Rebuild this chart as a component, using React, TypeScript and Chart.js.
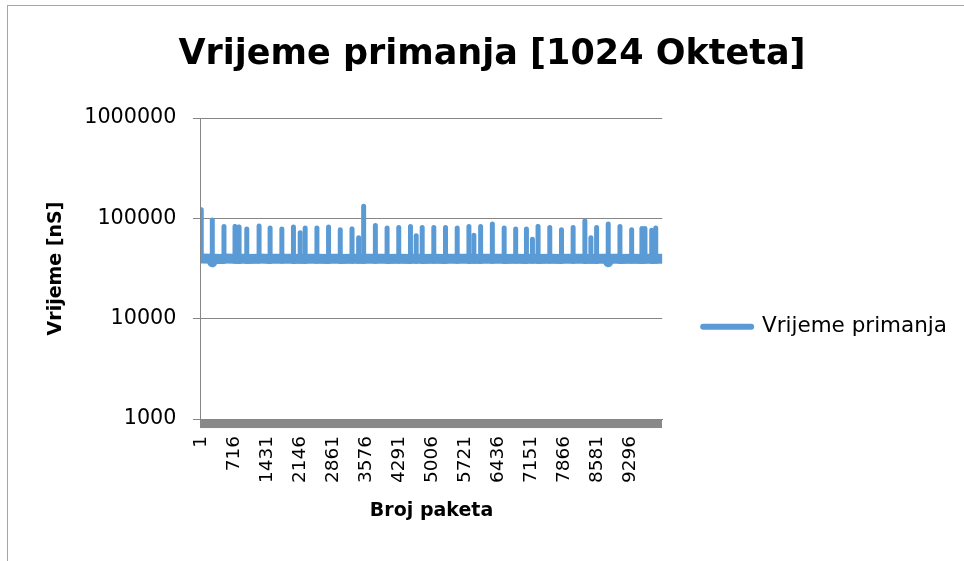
import React, { useEffect, useRef } from "react";
import { Chart, registerables } from "chart.js";

Chart.register(...registerables);

// Packet number of each vertex of the line
const packets = [
  1, 7, 8,
  246, 247, 248, 270,
  499, 500, 501,
  739, 740, 741,
  826, 827, 828,
  993, 994, 995,
  1260, 1261, 1262,
  1499, 1500, 1501,
  1754, 1755, 1756,
  2005, 2006, 2007,
  2151, 2152, 2153,
  2259, 2260, 2261,
  2514, 2515, 2516,
  2766, 2767, 2768,
  3020, 3021, 3022,
  3275, 3276, 3277,
  3418, 3419, 3420,
  3527, 3528, 3529,
  3781, 3782, 3783,
  4035, 4036, 4037,
  4288, 4289, 4290,
  4542, 4543, 4544,
  4666, 4667, 4668,
  4796, 4797, 4798,
  5048, 5049, 5050,
  5302, 5303, 5304,
  5555, 5556, 5557,
  5809, 5810, 5811,
  5917, 5918, 5919,
  6063, 6064, 6065,
  6317, 6318, 6319,
  6573, 6574, 6575,
  6823, 6824, 6825,
  7056, 7057, 7058,
  7186, 7187, 7188,
  7308, 7309, 7310,
  7562, 7563, 7564,
  7816, 7817, 7818,
  8068, 8069, 8070,
  8323, 8324, 8325,
  8453, 8454, 8455,
  8577, 8578, 8579,
  8829, 8830, 8831, 8850,
  9083, 9084, 9085,
  9337, 9338, 9339,
  9559, 9560, 9561,
  9626, 9627, 9628,
  9772, 9773, 9774,
  9859, 9860, 9861,
  10000,
];

// Receive time [nS] at each vertex
const receiveTimes = [
  39500, 122000, 39800,
  39600, 96000, 36500, 39500,
  39400, 83000, 39700,
  39500, 83000, 39600,
  39400, 82000, 39500,
  39600, 78500, 39400,
  39500, 84000, 39700,
  39400, 80000, 39500,
  39600, 78500, 39500,
  39500, 82000, 39400,
  39500, 72000, 39600,
  39400, 80000, 39500,
  39500, 80000, 39600,
  39400, 82000, 39500,
  39500, 77000, 39400,
  39600, 78500, 39500,
  39500, 64000, 39500,
  39400, 132000, 39600,
  39500, 85000, 39500,
  39600, 80000, 39400,
  39500, 81000, 39500,
  39400, 83000, 39600,
  39500, 67000, 39500,
  39600, 81000, 39400,
  39500, 81000, 39500,
  39400, 81000, 39600,
  39500, 80000, 39500,
  39600, 83000, 39400,
  39500, 68000, 39500,
  39400, 83000, 39600,
  39500, 88000, 39500,
  39600, 80000, 39400,
  39500, 78500, 39500,
  39400, 78500, 39600,
  39500, 62000, 39500,
  39600, 83000, 39400,
  39500, 81000, 39500,
  39400, 77000, 39600,
  39500, 81000, 39500,
  39600, 94000, 39400,
  39500, 64000, 39500,
  39400, 81000, 39600,
  39500, 88000, 36500, 39500,
  39600, 83000, 39400,
  39500, 77000, 39500,
  39400, 79000, 39600,
  39500, 79000, 39500,
  39600, 76000, 39400,
  39500, 80000, 39600,
  39500,
];

const xTickLabels = [1, 716, 1431, 2146, 2861, 3576, 4291, 5006, 5721, 6436, 7151, 7866, 8581, 9296];
const yTickValues = [1000, 10000, 100000, 1000000];

const seriesName = "Vrijeme primanja";
const chartTitle = "Vrijeme primanja [1024 Okteta]";
const xTitle = "Broj paketa";
const yTitle = "Vrijeme [nS]";

const FONT = "'DejaVu Sans'";
const BLUE = "#5B9BD5";
const GRID = "#868686";

export default function App() {
  const canvasRef = useRef<HTMLCanvasElement | null>(null);

  useEffect(() => {
    const canvas = canvasRef.current;
    if (!canvas) return;
    const data = packets.map((p, i) => ({ x: p, y: receiveTimes[i] }));
    const chart = new Chart(canvas, {
      type: "line",
      data: {
        datasets: [
          {
            label: seriesName,
            data,
            borderColor: BLUE,
            backgroundColor: BLUE,
            borderWidth: 5,
            pointRadius: 0,
            borderCapStyle: "round",
            borderJoinStyle: "round",
            tension: 0,
            segment: {
              borderWidth: (ctx: any) =>
                ctx.p0.parsed.y < 50000 && ctx.p1.parsed.y < 50000 ? 10 : 5,
            },
          } as any,
        ],
      },
      options: {
        animation: false,
        responsive: false,
        devicePixelRatio: 1,
        events: [],
        layout: { padding: { left: 27, right: 7, top: 0, bottom: 0 } },
        scales: {
          x: {
            type: "linear",
            min: 1,
            max: 10000,
            afterBuildTicks: (scale: any) => {
              const t: any[] = [];
              for (let v = 1; v <= 10000; v += 5) t.push({ value: v });
              scale.ticks = t;
            },
            grid: {
              drawOnChartArea: false,
              drawTicks: true,
              tickLength: 9,
              color: "#898989",
              lineWidth: 1,
            },
            border: { display: true, color: GRID, width: 1 },
            ticks: {
              autoSkip: false,
              minRotation: 90,
              maxRotation: 90,
              padding: 8,
              color: "#000",
              font: { family: FONT, size: 18.5 },
              callback: (v: any) => (xTickLabels.includes(Number(v)) ? String(v) : ""),
            },
            title: {
              display: true,
              text: xTitle,
              color: "#000",
              font: { family: FONT, size: 19, weight: "bold" },
              padding: { top: 8.5, bottom: 38.6 },
            },
          },
          y: {
            type: "logarithmic",
            min: 1000,
            max: 1000000,
            afterBuildTicks: (scale: any) => {
              scale.ticks = yTickValues.map((v) => ({ value: v }));
            },
            grid: {
              color: GRID,
              lineWidth: 1,
              drawTicks: true,
              tickLength: 8,
            },
            border: { display: true, color: GRID, width: 1 },
            ticks: {
              padding: 16.5,
              color: "#000",
              font: { family: FONT, size: 20.7 },
              callback: (v: any) => String(v),
            },
            title: {
              display: true,
              text: yTitle,
              color: "#000",
              font: { family: FONT, size: 19, weight: "bold" },
              padding: { top: 18, bottom: 0 },
            },
          },
        },
        plugins: {
          tooltip: { enabled: false },
          title: {
            display: true,
            text: chartTitle,
            color: "#000",
            font: { family: FONT, size: 35, weight: "bold" },
            padding: { top: 33.7, bottom: 42.3 },
          },
          legend: {
            display: true,
            position: "right",
            align: "center",
            maxWidth: 400,
            title: {
              display: true,
              text: " ",
              font: { family: FONT, size: 12 },
              padding: { top: 78, bottom: 0 },
            },
            labels: {
              usePointStyle: true,
              pointStyle: "line",
              pointStyleWidth: 48,
              padding: 41,
              color: "#000",
              font: { family: FONT, size: 21.5 },
              generateLabels: (c: any) =>
                Chart.defaults.plugins.legend.labels
                  .generateLabels(c)
                  .map((l: any) => ({ ...l, lineWidth: 6, lineCap: "round" })),
            },
          },
        },
      } as any,
    });
    return () => chart.destroy();
  }, []);

  return (
    <div
      style={{
        position: "absolute",
        left: 0,
        top: 0,
        width: 964,
        height: 561,
        overflow: "hidden",
        background: "#fff",
      }}
    >
      <div
        style={{
          position: "absolute",
          left: 7,
          top: 5,
          width: 1200,
          height: 1200,
          borderLeft: "1px solid #a6a6a6",
          borderTop: "1px solid #a6a6a6",
        }}
      />
      <canvas
        ref={canvasRef}
        width={964}
        height={561}
        style={{ position: "absolute", left: 0, top: 0, width: 964, height: 561 }}
      />
    </div>
  );
}
